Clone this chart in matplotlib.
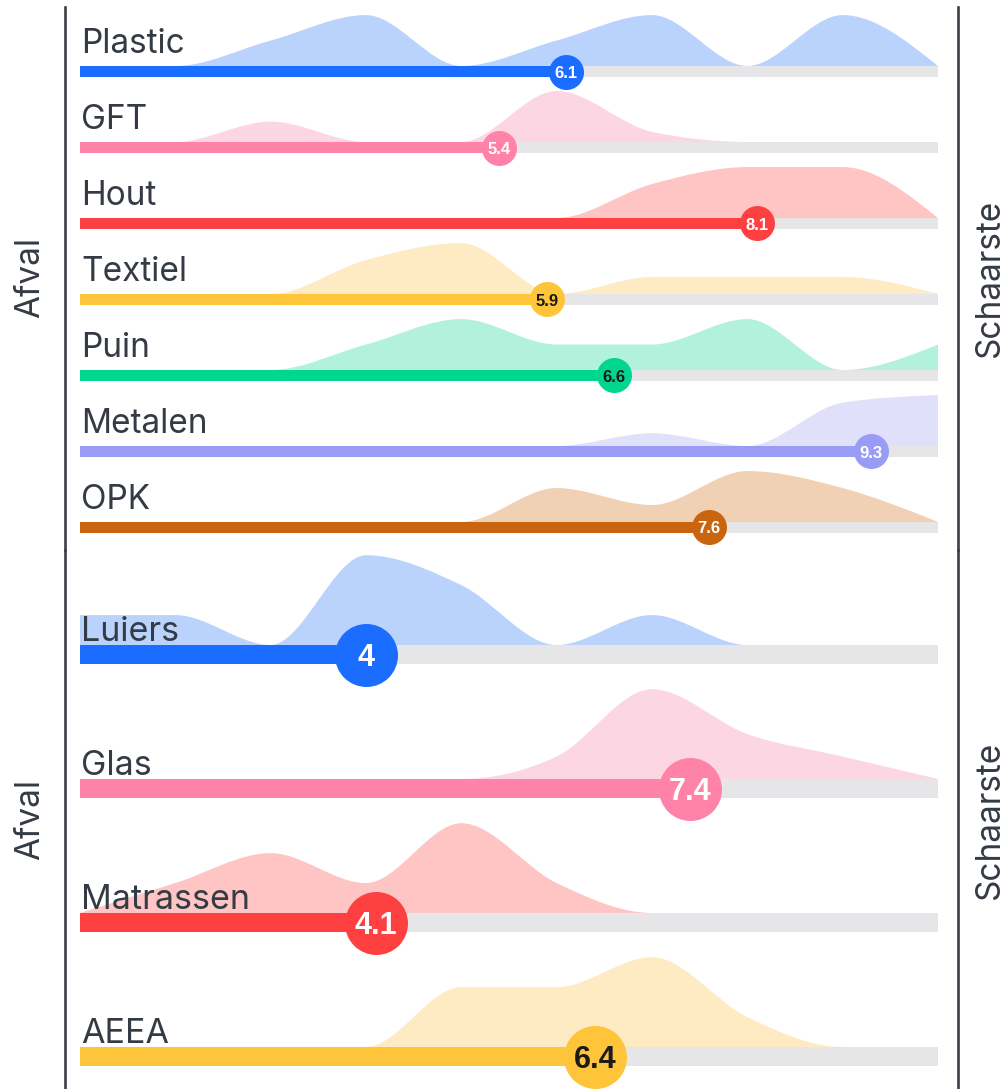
import numpy as np
import matplotlib
matplotlib.use("Agg")
import matplotlib.pyplot as plt
from matplotlib.path import Path
from matplotlib.patches import PathPatch

# scores 1..10
scale = np.arange(1, 11)

# top block
names_top = ["Plastic", "GFT", "Hout", "Textiel", "Puin", "Metalen", "OPK"]
scores_top = [6.1, 5.4, 8.1, 5.9, 6.6, 9.3, 7.6]
dens_plastic = [0, 0, 1, 2, 0, 1, 2, 0, 2, 0]
dens_gft = [0, 0, 2, 0, 0, 5, 1, 0, 0, 0]
dens_hout = [0, 0, 0, 0, 0, 0, 2, 3, 3, 0]
dens_textiel = [0, 0, 0, 2, 3, 0, 1, 1, 1, 0]
dens_puin = [0, 0, 0, 1, 2, 1, 1, 2, 0, 1]
dens_metalen = [0, 0, 0, 0, 0, 0, 1, 0, 3.4, 4]
dens_opk = [0, 0, 0, 0, 0, 2, 1, 3, 2, 0]

# bottom block
names_bot = ["Luiers", "Glas", "Matrassen", "AEEA"]
scores_bot = [4, 7.4, 4.1, 6.4]
dens_luiers = [1, 1, 0, 3, 2, 0, 1, 0, 0, 0]
dens_glas = [0, 0, 0, 0, 0, 1, 4, 2, 1, 0]
dens_matrassen = [0, 1, 2, 1, 3, 1, 0, 0, 0, 0]
dens_aeea = [0, 0, 0, 0, 2, 2, 3, 1, 0, 0]

dens_top = [dens_plastic, dens_gft, dens_hout, dens_textiel, dens_puin, dens_metalen, dens_opk]
dens_bot = [dens_luiers, dens_glas, dens_matrassen, dens_aeea]

# colours
blue, pink, red, yellow = "#1a6dff", "#ff82a9", "#ff4040", "#ffc53a"
green, lilac, brown = "#00d68f", "#989cf4", "#c9650e"
light = {blue: "#bad3fd", pink: "#fdd6e3", red: "#ffc4c4", yellow: "#feebc4",
         green: "#b2f2dc", lilac: "#e0e0fb", brown: "#f0d1b4"}
colors_top = [blue, pink, red, yellow, green, lilac, brown]
colors_bot = [blue, pink, red, yellow]
dark_text = {yellow, green}

TXT = "#353b44"
TRACK = "#e6e6e8"
LINE = "#3b4048"
LABEL_FONT = ["Inter", "DejaVu Sans"]
NUM_FONT = ["Liberation Sans", "DejaVu Sans"]


def monotone_area(xs, ys, base):
    # d3 curveMonotoneX as bezier segments
    xs = np.asarray(xs, float)
    ys = np.asarray(ys, float)
    n = len(xs)
    h = np.diff(xs)
    s = np.diff(ys) / h
    t = np.zeros(n)
    for i in range(1, n - 1):
        s0, s1, h0, h1 = s[i - 1], s[i], h[i - 1], h[i]
        p = (s0 * h1 + s1 * h0) / (h0 + h1)
        t[i] = (np.sign(s0) + np.sign(s1)) * min(abs(s0), abs(s1), 0.5 * abs(p))
    t[0] = (3 * s[0] - t[1]) / 2
    t[-1] = (3 * s[-1] - t[-2]) / 2
    verts = [(xs[0], ys[0])]
    codes = [Path.MOVETO]
    for i in range(n - 1):
        dx = h[i] / 3
        verts += [(xs[i] + dx, ys[i] + dx * t[i]),
                  (xs[i + 1] - dx, ys[i + 1] - dx * t[i + 1]),
                  (xs[i + 1], ys[i + 1])]
        codes += [Path.CURVE4] * 3
    verts += [(xs[-1], base), (xs[0], base), (xs[0], ys[0])]
    codes += [Path.LINETO, Path.LINETO, Path.CLOSEPOLY]
    return Path(verts, codes)


W, H = 1007, 1089
fig = plt.figure(figsize=(W / 100, H / 100), dpi=100)

# pixel layout: score 1 -> x 80, score 10 -> x 938
px_per = (938 - 80) / 9.0
xlo = 1 - (80 - 65) / px_per
xhi = 1 + (958 - 80) / px_per


def panel(top_px, bot_px, row0_px, step_px, names, scores, dens, colors,
          bar_px, rad_px, lab_off_px, lab_size, num_size, num_weight):
    ax = fig.add_axes([65 / W, 1 - bot_px / H, (958 - 65) / W, (bot_px - top_px) / H])
    ax.set_xlim(xlo, xhi)
    ax.set_ylim((bot_px - row0_px) / step_px, (top_px - row0_px) / step_px)
    for sp in ["top", "bottom"]:
        ax.spines[sp].set_visible(False)
    for sp in ["left", "right"]:
        ax.spines[sp].set_color(LINE)
        ax.spines[sp].set_linewidth(1.9)
    ax.set_xticks([])
    ax.set_yticks([])
    ax.patch.set_alpha(0)

    bar_h = bar_px / step_px
    peak = 0.67
    s_circ = (2 * rad_px * 0.72) ** 2
    for i, (nm, sc, d, c) in enumerate(zip(names, scores, dens, colors)):
        base = i - bar_h / 2
        d = np.asarray(d, float)
        ys = base - d / d.max() * peak
        ax.add_patch(PathPatch(monotone_area(scale, ys, base), facecolor=light[c],
                               edgecolor="none", zorder=1))
        ax.barh(i, scale[-1] - scale[0], left=scale[0], height=bar_h, color=TRACK, zorder=2)
        ax.barh(i, sc - scale[0], left=scale[0], height=bar_h, color=c, zorder=3)
        ax.scatter([sc], [i], s=s_circ, color=c, linewidths=0, zorder=4)
        ax.text(sc, i, f"{sc:g}", ha="center", va="center_baseline", fontsize=num_size,
                fontweight=num_weight, family=NUM_FONT,
                color="#1b1b1b" if c in dark_text else "white", zorder=5)
        ax.text(scale[0] + 0.01, i - lab_off_px / step_px, nm, ha="left", va="baseline",
                fontsize=lab_size, family=LABEL_FONT, color=TXT, zorder=6)
    return ax


panel(7, 550, 71.5, 76, names_top, scores_top, dens_top, colors_top,
      11, 17.5, 18.5, 24, 12, "bold")
panel(550, 1089, 654.5, 134, names_bot, scores_bot, dens_bot, colors_bot,
      19, 31.5, 13.5, 24.5, 22, "bold")

for yc in [278, 820]:
    fig.text(30.5 / W, 1 - yc / H, "Afval", rotation=90, ha="center", va="center",
             fontsize=24, family=LABEL_FONT, color=TXT)
    fig.text(990 / W, 1 - yc / H, "Schaarste", rotation=90, ha="center", va="center",
             fontsize=24, family=LABEL_FONT, color=TXT)

fig.savefig("out.png", dpi=100, facecolor="white")
